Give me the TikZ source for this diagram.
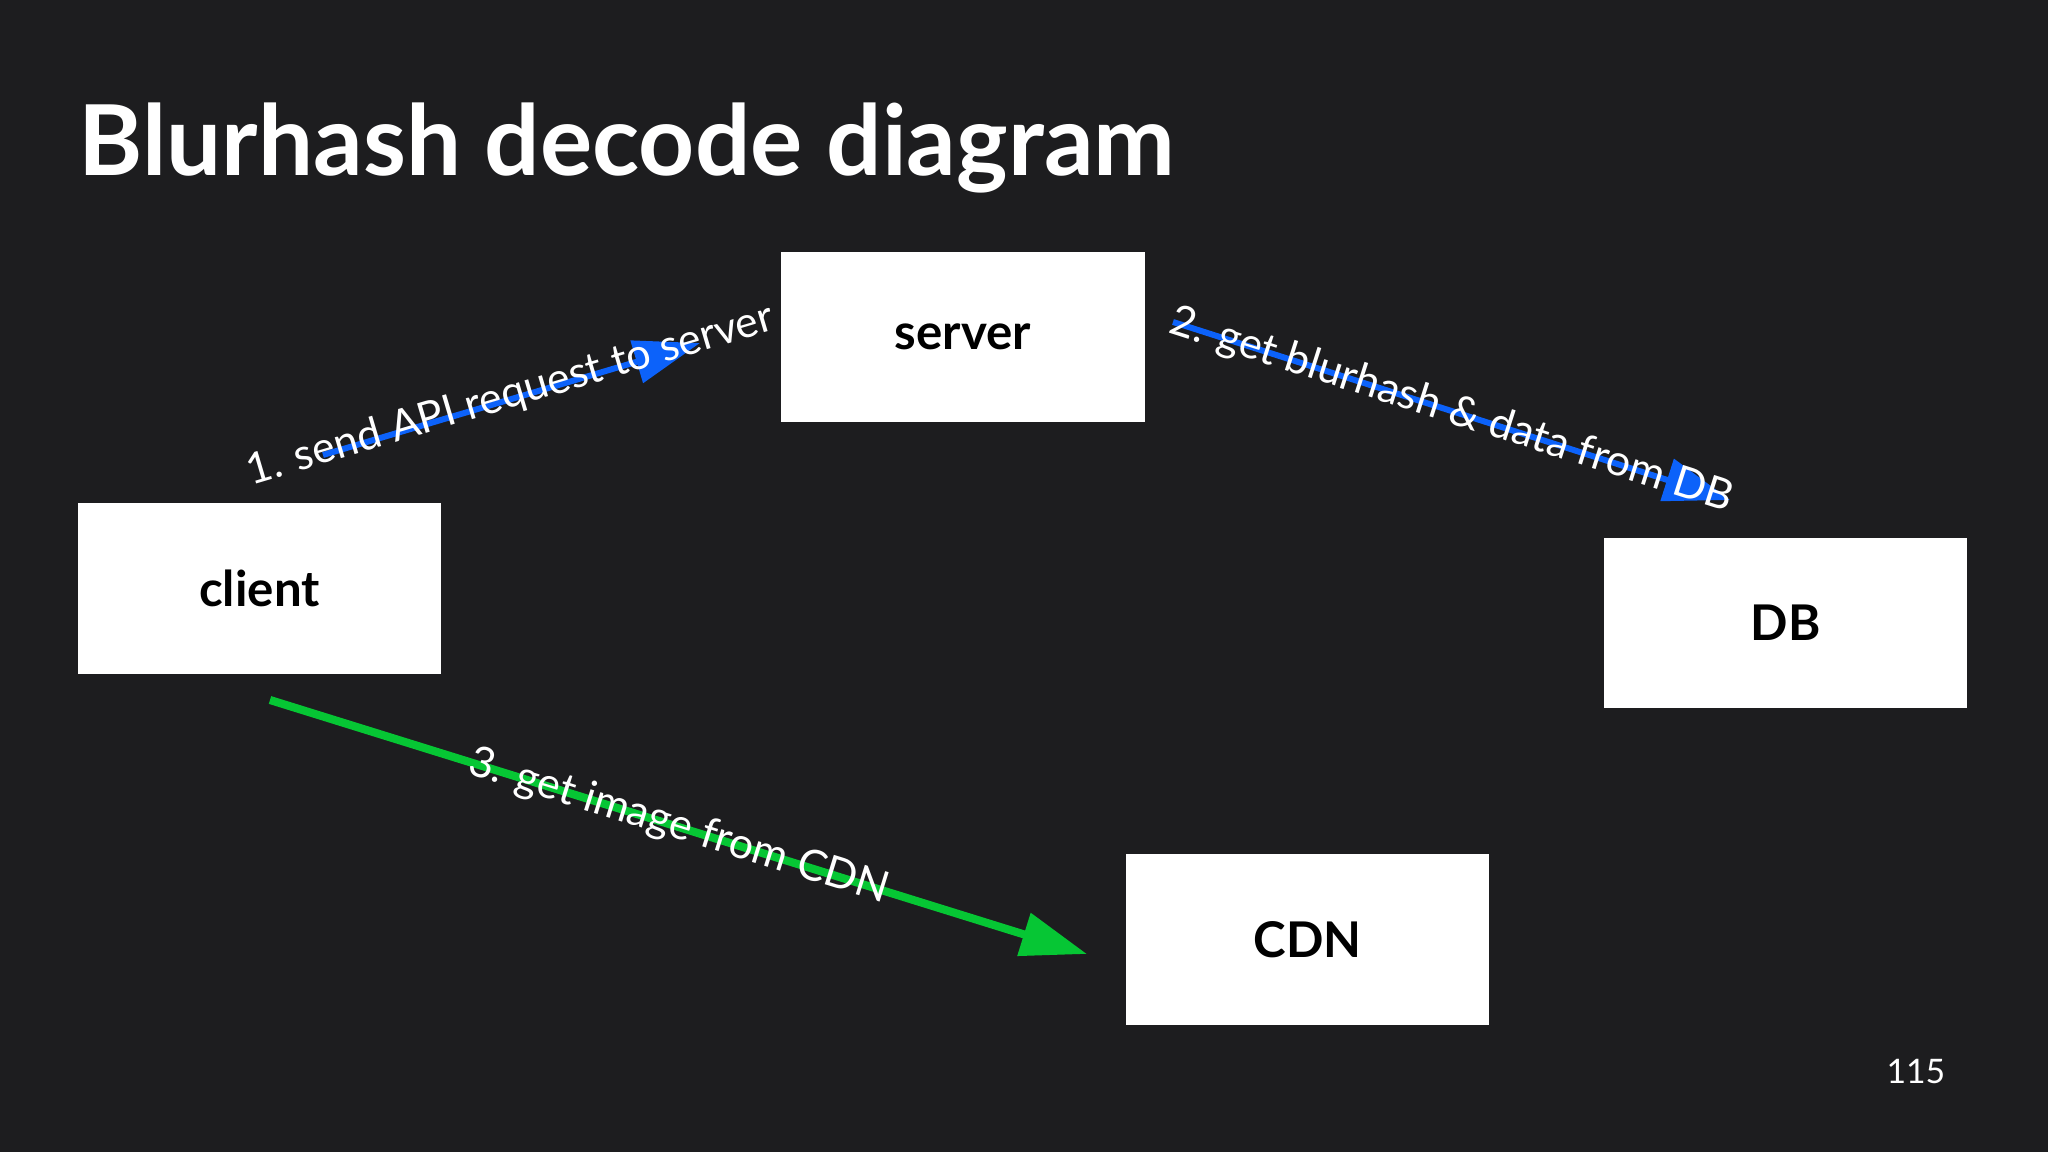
\documentclass[tikz,border=0pt]{standalone}
\usepackage{fontspec}
\setmainfont{Lato}
\usetikzlibrary{arrows.meta}
\definecolor{bg}{RGB}{29,29,31}
\definecolor{reqblue}{RGB}{12,98,250}
\definecolor{imggreen}{RGB}{6,198,52}

\begin{document}
\begin{tikzpicture}[x=0.01cm,y=-0.01cm,
  box/.style={fill=white,minimum width=3.63cm,minimum height=1.70cm,inner sep=0pt,font=\fontsize{14}{16}\selectfont\bfseries},
  lbl/.style={text=white,sloped,midway,inner sep=0pt,font=\fontsize{12.2}{14}\selectfont},
  req/.style={reqblue,line width=1.7pt,-{Triangle[length=0.66cm,width=0.43cm]}},
  img/.style={imggreen,line width=2.3pt,-{Triangle[length=0.66cm,width=0.43cm]}}]
\fill[bg] (0,0) rectangle (2048,1152);
\node[anchor=base west,inner sep=0pt,text=white,font=\fontsize{27.8}{32}\selectfont\bfseries] (title)at(78,176){Blurhash decode diagram};
\node[box] (server)at(963,337){server};
\node[box] (client)at(259.5,588.5){client};
\node[box] (db)at(1785.5,623){DB};
\node[box] (cdn)at(1307.5,939.5){CDN};
\coordinate (req1a) at (323,455);
\coordinate (req1b) at (700,343);
\coordinate (req2a) at (1173,322);
\coordinate (req2b) at (1730,500);
\coordinate (img3a) at (270,700);
\coordinate (img3b) at (1087,954);
\draw[req] (req1a) -- (req1b) node[lbl,yshift=1pt]{1. send API request to server};
\draw[req] (req2a) -- (req2b) node[lbl]{2. get blurhash \& data from DB};
\draw[img] (img3a) -- (img3b) node[lbl]{3. get image from CDN};
\node[anchor=base east,inner sep=0pt,text=white,font=\fontsize{9.6}{12}\selectfont] (page)at(1946,1083){115};
\end{tikzpicture}
\end{document}
